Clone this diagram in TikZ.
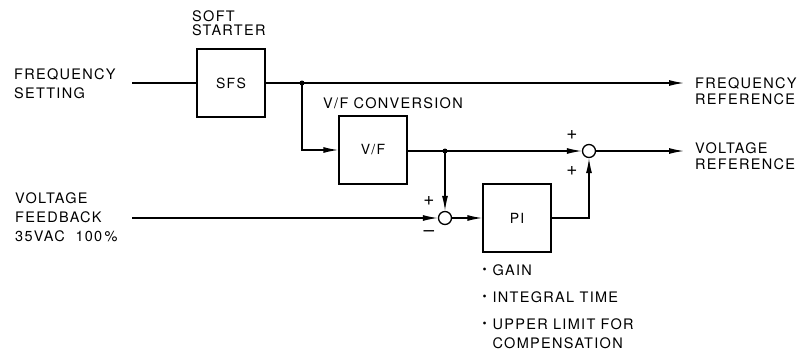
\documentclass[tikz,border=0pt]{standalone}
\usepackage{fontspec}
\setmainfont{TeX Gyre Heros}[LetterSpace=9]
\usepackage{graphicx}
\usepackage{tikz}
\usetikzlibrary{arrows.meta,positioning,calc}
\newcommand{\smbul}{\raisebox{0.2ex}{\scalebox{0.8}{\textbullet}}}
\tikzset{
    blk/.style={rectangle, draw, line width=1.3pt, minimum width=68pt,
                minimum height=68pt, inner sep=0pt, font=\fontsize{14}{14}\selectfont},
    sumpt/.style={circle, draw, line width=1.3pt, minimum size=13pt, inner sep=0pt},
    dotpt/.style={circle, fill, minimum size=5pt, inner sep=0pt},
    lbl/.style={font=\fontsize{14.5}{#1}\selectfont, align=left, inner sep=0pt,
                anchor=north west},
    lbl/.default=19pt,
    sgn/.style={font=\fontsize{19}{19}\selectfont, inner sep=0pt},
    arr/.style={-{Latex[length=15pt,width=6pt]}, line width=1.3pt},
    ln/.style={line width=1.3pt},
}
\begin{document}
\begin{tikzpicture}[x=1pt, y=-1pt]
    \useasboundingbox (0,0) rectangle (803,351);

    % blocks
    \node[blk] (sfs) at (231,83)  {SFS};
    \node[blk] (vf)  at (373,150) {V/F};
    \node[blk] (pi)  at (517,218) {PI};

    % summing points and branch dots
    \node[sumpt] (sum1) at (445,218) {};
    \node[sumpt] (sum2) at (589,151) {};
    \node[dotpt] (j1) at (302,83)  {};
    \node[dotpt] (j2) at (445,151) {};

    % free ends
    \coordinate (fin)  at (132,83);
    \coordinate (fvb)  at (132,218);
    \coordinate (fout) at (684,83);
    \coordinate (vout) at (684,151);

    % labels
    \node[lbl] (fset) at (14,68)  {FREQUENCY\\SETTING};
    \node[lbl] (vfb)  at (15,192) {VOLTAGE\\FEEDBACK\\35VAC\ \ 100\,\%};
    \node[lbl=14pt] (soft) at (192,10) {SOFT\\STARTER};
    \node[lbl] (vfconv) at (323,97) {V/F CONVERSION};
    \node[lbl=16pt] (fref) at (695,77)  {FREQUENCY\\REFERENCE};
    \node[lbl=16pt] (vref) at (695,142) {VOLTAGE\\REFERENCE};
    \node[lbl, below=9pt of pi.south west, anchor=north west] (notes)
        {\begin{tabular}{@{}l@{\hspace{6pt}}l@{}}
         \smbul & GAIN\\[8pt]
         \smbul & INTEGRAL TIME\\[8pt]
         \smbul & UPPER LIMIT FOR\\
                & COMPENSATION
         \end{tabular}};

    % signs
    \node[sgn] (p21) at (572,135) {+};
    \node[sgn] (p22) at (572,171) {+};
    \node[sgn] (p11) at (429,201) {+};
    \node[sgn] (m11) at (429,234) {--};

    % connectors
    \draw[ln]  (fin) -- (sfs.west);
    \draw[arr] (sfs.east) -- (fout);
    \draw[arr] (j1.center) |- (vf.west);
    \draw[arr] (vf.east |- sum2) -- (sum2.west);
    \draw[arr] (j2.center) -- (sum1.north);
    \draw[arr] (fvb) -- (sum1.west);
    \draw[arr] (sum1.east) -- (pi.west);
    \draw[arr] (pi.east) -| (sum2.south);
    \draw[arr] (sum2.east) -- (vout);
\end{tikzpicture}
\end{document}
